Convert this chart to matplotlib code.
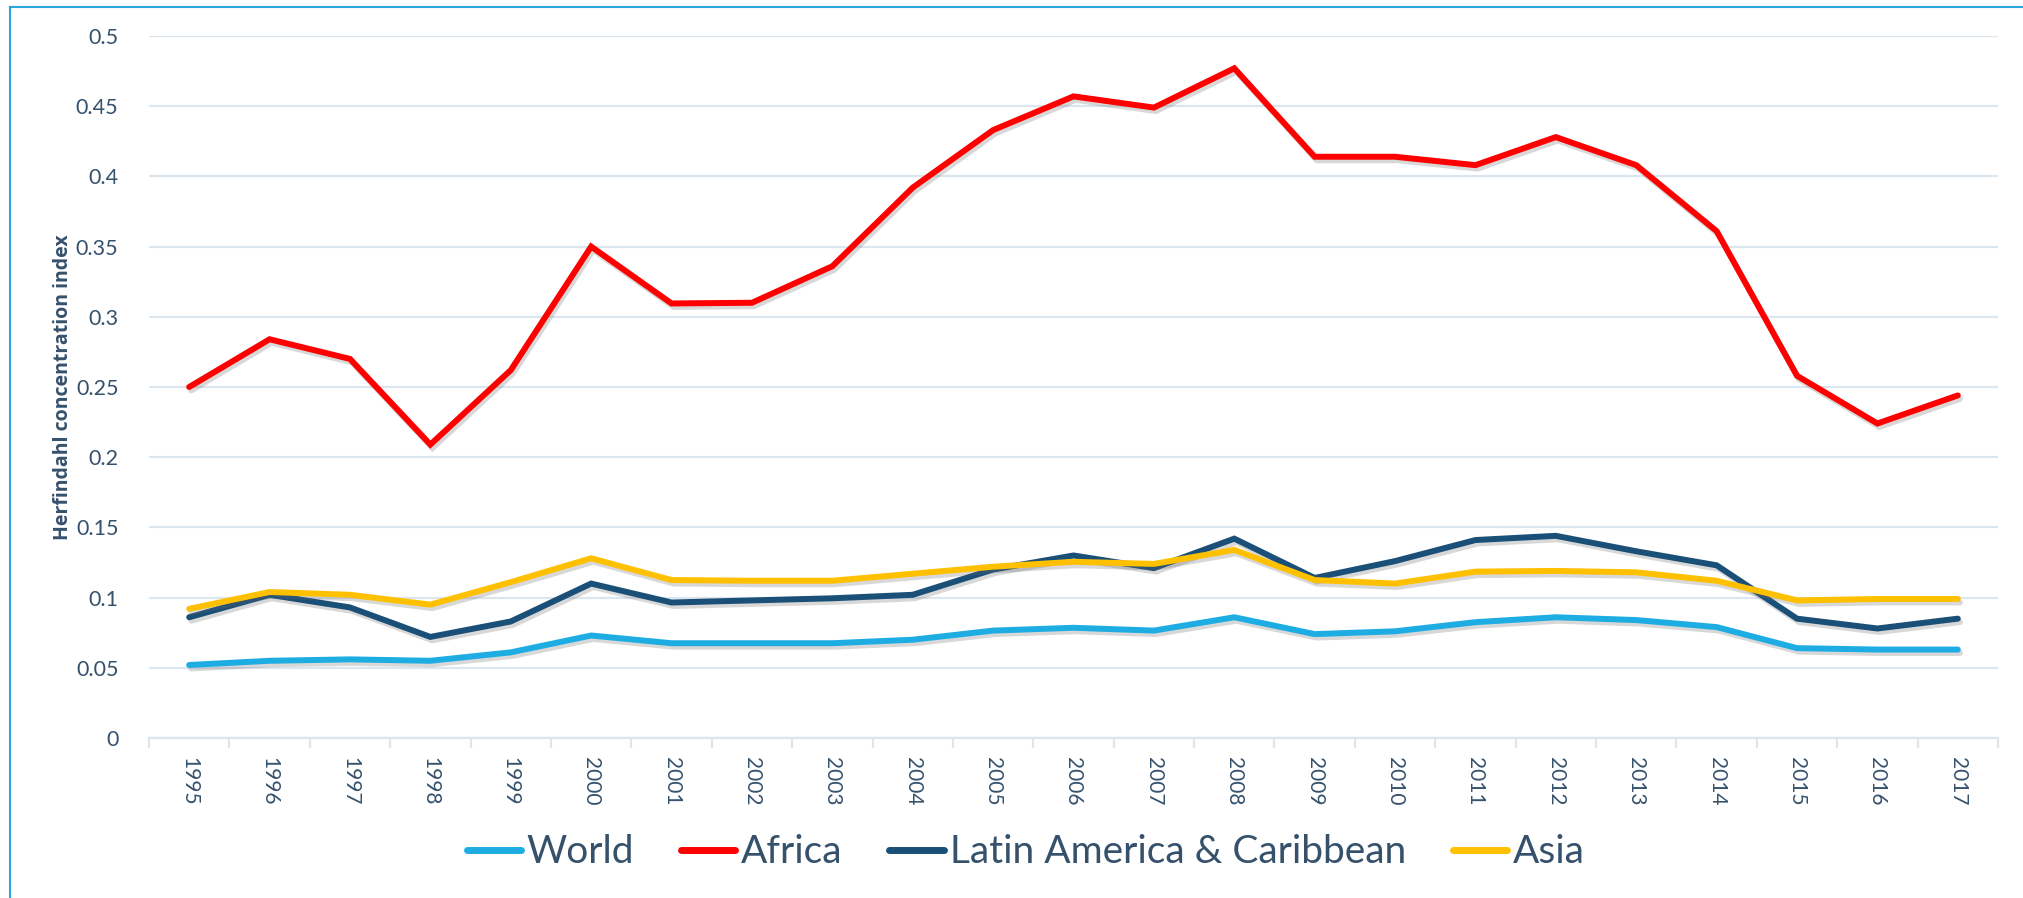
import numpy as np
import matplotlib
matplotlib.use("Agg")
from matplotlib import pyplot as plt
from matplotlib import patheffects as pe
from matplotlib.lines import Line2D

years = [str(y) for y in range(1995, 2018)]

world = [0.052, 0.055, 0.056, 0.055, 0.061, 0.073, 0.0675, 0.0675, 0.0675, 0.070, 0.0765, 0.0785,
         0.0765, 0.086, 0.074, 0.076, 0.0825, 0.086, 0.084, 0.079, 0.064, 0.063, 0.063]
africa = [0.250, 0.284, 0.270, 0.209, 0.262, 0.350, 0.3095, 0.310, 0.336, 0.392, 0.433, 0.457,
          0.449, 0.477, 0.414, 0.414, 0.408, 0.428, 0.408, 0.361, 0.258, 0.224, 0.244]
latam = [0.086, 0.102, 0.093, 0.072, 0.083, 0.110, 0.0965, 0.098, 0.0995, 0.102, 0.120, 0.130,
         0.121, 0.142, 0.114, 0.126, 0.141, 0.144, 0.133, 0.123, 0.085, 0.078, 0.085]
asia = [0.092, 0.104, 0.102, 0.095, 0.111, 0.128, 0.1125, 0.112, 0.112, 0.117, 0.122, 0.1255,
        0.124, 0.134, 0.1125, 0.110, 0.1185, 0.119, 0.118, 0.112, 0.098, 0.099, 0.099]

series_names = ["World", "Africa", "Latin America & Caribbean", "Asia"]
series_values = [world, africa, latam, asia]
series_colors = ["#1EADE3", "#FF0000", "#1A4F78", "#FFC000"]

text_color = "#35516C"
grid_color = "#DCE6EF"

plt.rcParams['font.family'] = ['Lato', 'DejaVu Sans']

fig = plt.figure(figsize=(20.23, 8.98), dpi=100)
ax = fig.add_axes([149 / 2023, 1 - 738 / 898, (1998 - 149) / 2023, (738 - 36) / 898])

x = np.arange(len(years))
# soft-ish drop shadow like the Excel line effect
shadow = [pe.SimpleLineShadow(offset=(1.5, -2.5), shadow_color='#666666', alpha=0.25), pe.Normal()]
for name, vals, col in zip(series_names, series_values, series_colors):
    ax.plot(x, vals, color=col, lw=4.3, solid_capstyle='round', solid_joinstyle='miter',
            path_effects=shadow, label=name, zorder=3)

ax.set_xlim(-0.5, len(years) - 0.5)
ax.set_ylim(0, 0.5)
ax.set_yticks(np.arange(0, 0.51, 0.05))
ax.set_yticklabels(["0", "0.05", "0.1", "0.15", "0.2", "0.25", "0.3", "0.35", "0.4", "0.45", "0.5"])
ax.grid(axis='y', color=grid_color, lw=1.6, zorder=0)
ax.set_axisbelow(True)

ax.set_xticks(x)
ax.set_xticklabels(years, rotation=270)
ax.set_xticks(np.arange(-0.5, len(years)), minor=True)
ax.tick_params(axis='x', which='major', length=0, pad=14, labelsize=15, labelcolor=text_color)
ax.tick_params(axis='x', which='minor', length=7, width=1.6, color=grid_color)
ax.tick_params(axis='y', length=0, pad=22, labelsize=15.5, labelcolor=text_color)

for s in ['top', 'right', 'left']:
    ax.spines[s].set_visible(False)
ax.spines['bottom'].set_color(grid_color)
ax.spines['bottom'].set_linewidth(1.6)

fig.text(63 / 2023, 1 - 387 / 898, "Herfindahl concentration index", rotation=90, ha='center', va='center',
         fontsize=14, fontweight='bold', color=text_color, family=['Open Sans', 'DejaVu Sans'])

handles = [Line2D([], [], color=c, lw=5, solid_capstyle='round') for c in series_colors]
fig.legend(handles, series_names, loc='center', bbox_to_anchor=(0.507, 0.051), ncol=4, frameon=False,
           fontsize=28, labelcolor=text_color, handlelength=1.4, handletextpad=0.15, columnspacing=1.2)

# thin frame on the left and top edges
fig.add_artist(Line2D([10 / 2023, 10 / 2023], [0, 1 - 7 / 898], color="#2AA7DF", lw=1.5,
                      transform=fig.transFigure))
fig.add_artist(Line2D([10 / 2023, 1], [1 - 7 / 898, 1 - 7 / 898], color="#2AA7DF", lw=1.5,
                      transform=fig.transFigure))

fig.savefig("out.png", dpi=100)
